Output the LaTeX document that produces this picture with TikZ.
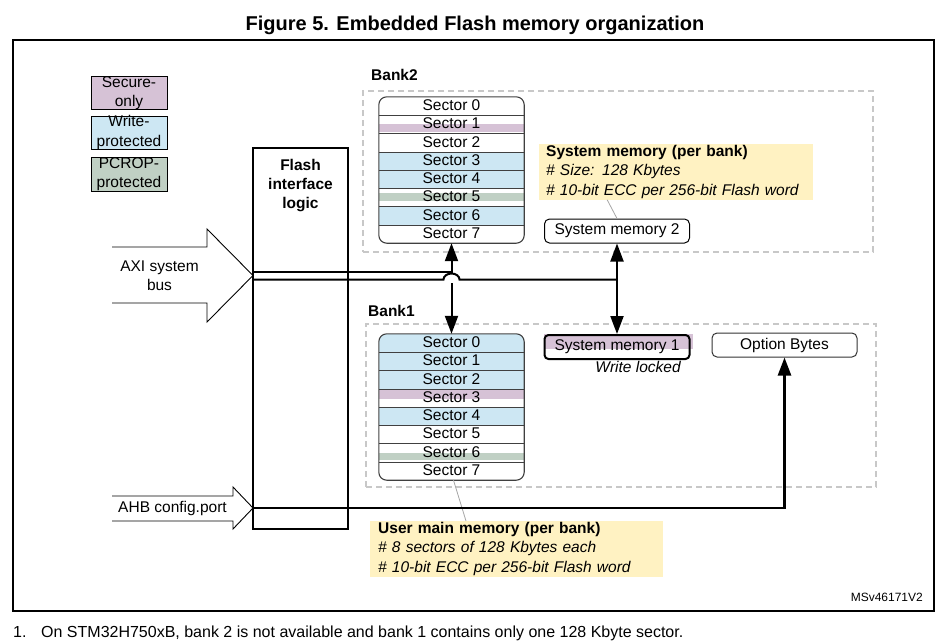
\documentclass[tikz,border=0pt]{standalone}
\usepackage{fontspec}
\setmainfont{Liberation Sans}
\usepackage{xcolor}
\usepackage{tikz}
\usetikzlibrary{arrows.meta,backgrounds}

\definecolor{securepurple}{RGB}{214,194,214}
\definecolor{writeblue}{RGB}{205,231,243}
\definecolor{pcropgreen}{RGB}{192,208,196}
\definecolor{noteyellow}{RGB}{255,242,194}
\definecolor{dashgray}{RGB}{200,200,200}

\tikzset{
    txt/.style={font=\fontsize{15.5}{19.5}\selectfont, inner sep=0pt},
    boldtxt/.style={txt, font=\fontsize{15.5}{19}\selectfont\bfseries},
    legendbox/.style={draw, line width=1pt, minimum width=76pt, minimum height=33pt, inner sep=0pt},
    sector/.style={txt, minimum width=145pt, minimum height=18.25pt},
    memory/.style={draw, txt, minimum width=145pt, minimum height=24pt, rounded corners=5pt, line width=1pt},
    bankframe/.style={draw=dashgray, line width=1.2pt, dash pattern=on 6pt off 4pt, inner sep=0pt},
    note/.style={txt, fill=noteyellow, align=left, anchor=north west, inner xsep=8pt, inner ysep=1pt},
    hollow/.style={line width=0.9pt},
    bus/.style={line width=2pt},
    pointer/.style={draw=gray!70, line width=0.8pt},
    sepline/.style={draw=black!75, line width=0.9pt},
    blockline/.style={draw=black!75, line width=1.1pt, rounded corners=8pt}
}

\begin{document}
\begin{tikzpicture}[x=1pt, y=-1pt, >={Triangle[length=18pt,width=13pt]}]
        \useasboundingbox (0,0) rectangle (950,643);
        \node[font=\fontsize{20}{24}\selectfont\bfseries] (title) at (475,25) {Figure 5. Embedded Flash memory organization};
        \draw[line width=1.5pt] (13,40) rectangle (934,611);

        \node[legendbox, fill=securepurple] (secure) at (129,93) {};
        \node[txt, align=center] (securetext) at (secure) {Secure-\\only};
        \node[legendbox, fill=writeblue] (write) at (129,132.5) {};
        \node[txt, align=center] (writetext) at (write) {Write-\\protected};
        \node[legendbox, fill=pcropgreen, minimum height=34pt] (pcrop) at (129,174) {};
        \node[txt, align=center] (pcroptext) at (pcrop) {PCROP-\\protected};

        \node[draw, line width=1.1pt, minimum width=95pt, minimum height=381pt] (flash) at (300.5,338.5) {};
        \node[boldtxt, align=center] (flashtext) at (300.5,186) {Flash\\interface\\logic};

        \coordinate (axitip) at (253,275.5);
        \draw[hollow] (112,247) -- (207,247) -- (207,229) -- (axitip) -- (207,322) -- (207,303) -- (112,303);
        \node[txt, align=center] (axitext) at (159.5,275.5) {AXI system\\bus};
        \coordinate (ahbtip) at (253,508);
        \draw[hollow] (112,496) -- (233,496) -- (233,487) -- (ahbtip) -- (233,529) -- (233,521) -- (112,521);
        \node[txt] (ahbtext) at (172.5,508) {AHB config.port};

        \node[boldtxt, anchor=west] (bank2label) at (371,75) {Bank2};
        \node[bankframe, minimum width=510pt, minimum height=161pt] (bank2) at (618,171.5) {};
        \node[boldtxt, anchor=west] (bank1label) at (368,311) {Bank1};
        \node[bankframe, minimum width=510pt, minimum height=163pt] (bank1) at (621,405.5) {};

        \foreach \k in {0,...,7} {
            \node[sector] (b2-s\k) at (451.5,{97+18.25*(\k+0.5)}) {\raisebox{2pt}{Sector \k}};
            \node[sector] (b1-s\k) at (451.5,{334+18.25*(\k+0.5)}) {\raisebox{2pt}{Sector \k}};
        }
        \begin{scope}[on background layer]
            \begin{scope}
                \clip[rounded corners=8pt] (b2-s0.north west) rectangle (b2-s7.south east);
                \foreach \k in {3,4,6}
                    \fill[writeblue] (b2-s\k.north west) rectangle (b2-s\k.south east);
                \fill[securepurple] ([yshift=2pt]b2-s1.south west) rectangle (b2-s1.east);
                \fill[pcropgreen] ([yshift=4.5pt]b2-s5.west) rectangle ([yshift=-3.5pt]b2-s5.east);
            \end{scope}
            \begin{scope}
                \clip[rounded corners=8pt] (b1-s0.north west) rectangle (b1-s7.south east);
                \foreach \k in {0,1,2,4}
                    \fill[writeblue] (b1-s\k.north west) rectangle (b1-s\k.south east);
                \fill[securepurple] (b1-s3.north west) rectangle ([yshift=-1pt]b1-s3.east);
                \fill[pcropgreen] (b1-s6.west) rectangle ([yshift=1.5pt]b1-s6.south east);
            \end{scope}
        \end{scope}
        \foreach \k in {0,...,6} {
            \draw[sepline] (b2-s\k.south west) -- (b2-s\k.south east);
            \draw[sepline] (b1-s\k.south west) -- (b1-s\k.south east);
        }
        \draw[blockline] (b2-s0.north west) rectangle (b2-s7.south east);
        \draw[blockline] (b1-s0.north west) rectangle (b1-s7.south east);

        \node[memory] (sys2) at (617,231) {System memory 2};
        \node[memory, line width=2pt, rounded corners=4pt] (sys1) at (617,347) {System memory 1};
        \begin{scope}[on background layer]
            \fill[securepurple] (sys1.north west) rectangle ([xshift=2pt,yshift=-1.5pt]sys1.east);
        \end{scope}
        \node[memory, draw=black!80] (optbytes) at (784.5,345) {Option Bytes};
        \node[txt, font=\fontsize{15.5}{19}\selectfont\itshape] (wlocked) at (638,367) {Write locked};

        \node[note, text width=260pt, inner xsep=7pt] (sysnote) at (539,144) {\textbf{System memory (per bank)}\\\textit{\# Size: 128 Kbytes}\\\textit{\# 10-bit ECC per 256-bit Flash word}};
        \node[note, text width=277pt] (usernote) at (370,521) {\textbf{User main memory (per bank)}\\\textit{\# 8 sectors of 128 Kbytes each}\\\textit{\# 10-bit ECC per 256-bit Flash word}};
        \draw[pointer] ([xshift=-69pt]sysnote.south) -- (sys2.north);
        \draw[pointer] ([xshift=2pt]b1-s7.south) -- ([xshift=96pt]usernote.north west);

        \coordinate (upbus) at ([yshift=4pt]axitip);
        \coordinate (lowbus) at ([yshift=-4pt]axitip);
        \coordinate (hop) at (lowbus -| b1-s0.north);
        \draw[bus, ->] (upbus) -| (b2-s7.south);
        \draw[bus] (lowbus) -- ([xshift=-8pt]hop) arc[start angle=180, end angle=0, x radius=8pt, y radius=6pt] -- (lowbus -| sys1.north);
        \draw[bus, ->] ([yshift=-3.5pt]hop) -- (b1-s0.north);
        \draw[bus, <->] (sys2.south) -- (sys1.north);
        \draw[bus, line width=2.5pt, ->] (ahbtip) -| (optbytes.south);

        \node[font=\fontsize{12}{14}\selectfont, anchor=east, inner sep=0pt] (msv) at (923,597) {MSv46171V2};
        \node[font=\fontsize{16}{19}\selectfont, anchor=west, inner sep=0pt] (footnote) at (13,633) {\makebox[28pt][l]{1.}On STM32H750xB, bank 2 is not available and bank 1 contains only one 128 Kbyte sector.};
    \end{tikzpicture}
\end{document}
